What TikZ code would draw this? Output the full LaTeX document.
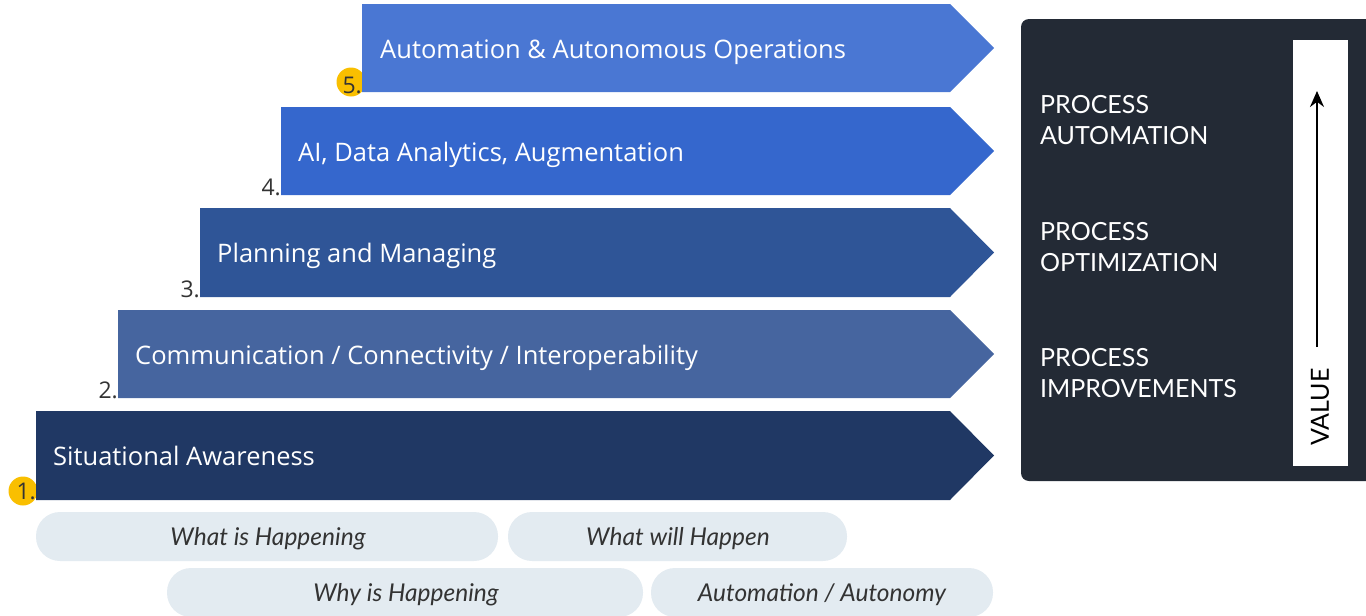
\documentclass[tikz,border=0pt]{standalone}
\usepackage{fontspec}
\setmainfont{Open Sans}
\newfontfamily\labfont{Open Sans}
\newfontfamily\panfont{Lato}
\newfontfamily\pillfont{Lato}
\usetikzlibrary{arrows.meta}
\definecolor{cA}{HTML}{203864}
\definecolor{cB}{HTML}{46659F}
\definecolor{cC}{HTML}{2F5597}
\definecolor{cD}{HTML}{3567CD}
\definecolor{cE}{HTML}{4A77D3}
\definecolor{panel}{HTML}{232A35}
\definecolor{yel}{HTML}{F9BF00}
\definecolor{pillc}{HTML}{E3EBF1}
\definecolor{numc}{HTML}{333333}
\tikzset{
  lab/.style={anchor=base west, text=white, font=\labfont\fontsize{25.5}{30}\selectfont, inner sep=0pt},
  num/.style={anchor=base east, text=numc, font=\labfont\fontsize{23}{26}\selectfont, inner sep=0pt},
  ptext/.style={text=white, anchor=west, align=left, font=\panfont\fontsize{25}{31}\selectfont, inner sep=0pt},
  pill/.style={fill=pillc, rounded corners=24pt},
  pilltext/.style={text=numc, anchor=base, font=\pillfont\itshape\fontsize{24.5}{28}\selectfont, inner sep=0pt},
  badge/.style={circle, fill=yel, minimum size=29pt, inner sep=0pt},
}
\newcommand{\stepshape}[4]{% color, left, top, bottom
  \fill[#1] (#2,#3) -- (950,#3) -- (994,{(#3+#4)/2}) -- (950,#4) -- (#2,#4) -- cycle;
}
\begin{document}
\begin{tikzpicture}[x=1pt,y=-1pt]
\useasboundingbox (0,0) rectangle (1366,616);
% badges behind numbers
\node[badge] (b1) at (23,491) {};
\node[badge] (b5) at (351,82) {};
% steps
\stepshape{cA}{36}{411}{500}
\stepshape{cB}{118}{310}{398}
\stepshape{cC}{200}{208}{297}
\stepshape{cD}{281}{107}{195}
\stepshape{cE}{362}{4}{92}
\node[lab] (l1) at (53,465) {Situational Awareness};
\node[lab] (l2) at (135,364) {Communication / Connectivity / Interoperability};
\node[lab] (l3) at (217,262) {Planning and Managing};
\node[lab] (l4) at (298,161) {AI, Data Analytics, Augmentation};
\node[lab] (l5) at (380,58) {Automation \& Autonomous Operations};
\node[num] (n1) at (36,499) {1.};
\node[num] (n2) at (118,398) {2.};
\node[num] (n3) at (200,297) {3.};
\node[num] (n4) at (281,195) {4.};
\node[num] (n5) at (362,93) {5.};
% panel
\fill[panel, rounded corners=8pt] (1021,19) rectangle (1390,481);
\fill[white] (1293,40) rectangle (1348,466);
\node[ptext] (p1) at (1040,120) {PROCESS\\AUTOMATION};
\node[ptext] (p2) at (1040,247) {PROCESS\\OPTIMIZATION};
\node[ptext] (p3) at (1040,373) {PROCESS\\IMPROVEMENTS};
\node[rotate=90, text=black, font=\panfont\fontsize{25}{28}\selectfont, inner sep=0pt] (val) at (1320,407) {VALUE};
\coordinate (vs) at (1317,347);
\coordinate (ve) at (1317,91);
\draw[line width=1.8pt, -{Stealth[length=16pt,width=14pt]}] (vs) -- (ve);
% pills
\fill[pill] (36,512) rectangle (498,561);
\fill[pill] (508,512) rectangle (847,561);
\fill[pill] (167,568) rectangle (643,617);
\fill[pill] (651,568) rectangle (993,617);
\node[pilltext] (q1) at (268,545) {What is Happening};
\node[pilltext] (q2) at (678,545) {What will Happen};
\node[pilltext] (q3) at (406,601) {Why is Happening};
\node[pilltext] (q4) at (822,601) {Automation / Autonomy};
\end{tikzpicture}
\end{document}
